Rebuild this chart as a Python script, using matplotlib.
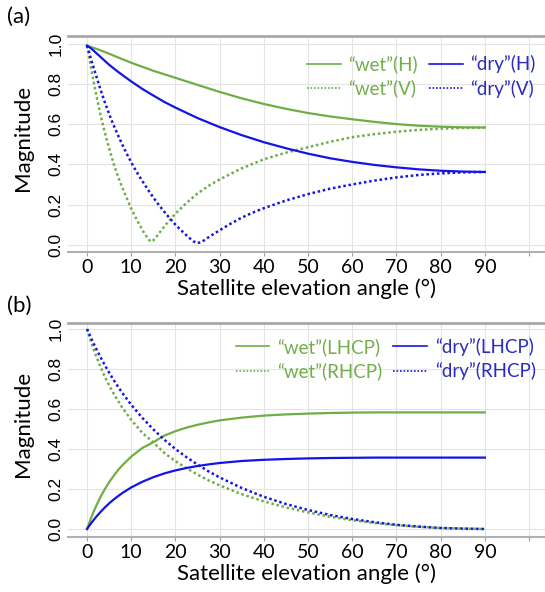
import matplotlib
matplotlib.use("Agg")
import matplotlib.pyplot as plt

plt.rcParams["font.family"] = ["Lato", "DejaVu Sans"]

# (a) linear polarisations, magnitudes
wet_h_deg = [0, 2, 5, 7.5, 10, 15, 20, 25, 30, 35, 40, 45, 50, 55, 60, 65, 70, 75, 80, 85, 90]
wet_h = [0.99, 0.975, 0.95, 0.927, 0.905, 0.865, 0.83, 0.795, 0.76, 0.728, 0.70, 0.676,
         0.655, 0.638, 0.624, 0.611, 0.60, 0.592, 0.587, 0.584, 0.583]

dry_h_deg = [0, 1, 2, 3, 5, 7, 10, 12.5, 15, 17.5, 20, 25, 30, 35, 40, 45, 50, 55, 60,
             65, 70, 75, 80, 85, 90]
dry_h = [0.99, 0.975, 0.955, 0.935, 0.895, 0.86, 0.812, 0.775, 0.742, 0.71, 0.682, 0.63,
         0.585, 0.545, 0.51, 0.48, 0.453, 0.43, 0.412, 0.397, 0.385, 0.375, 0.368, 0.364,
         0.362]

wet_v_deg = [0, 0.5, 1, 1.5, 2, 3, 4, 5, 6, 7, 8, 9, 10, 11, 12, 13, 14, 14.5, 15, 16,
             17, 18, 19, 20, 22.5, 25, 27.5, 30, 35, 40, 45, 50, 55, 60, 65, 70, 75, 80,
             85, 90]
wet_v = [0.99, 0.93, 0.87, 0.81, 0.755, 0.65, 0.56, 0.48, 0.405, 0.34, 0.283, 0.23, 0.18,
         0.135, 0.095, 0.055, 0.025, 0.015, 0.022, 0.048, 0.078, 0.105, 0.13, 0.155, 0.208,
         0.255, 0.293, 0.325, 0.38, 0.425, 0.458, 0.485, 0.512, 0.535, 0.55, 0.562, 0.571,
         0.577, 0.581, 0.583]

dry_v_deg = [0, 0.5, 1, 1.5, 2, 3, 4, 5, 6, 7, 8, 9, 10, 11, 12, 13, 14, 15, 16, 17, 18,
             19, 20, 21, 22, 23, 24, 25, 26, 27, 28, 30, 32.5, 35, 37.5, 40, 45, 50, 55,
             60, 65, 70, 75, 80, 85, 90]
dry_v = [0.99, 0.955, 0.915, 0.88, 0.845, 0.775, 0.71, 0.65, 0.595, 0.545, 0.497, 0.452,
         0.41, 0.37, 0.335, 0.30, 0.267, 0.235, 0.205, 0.177, 0.15, 0.125, 0.10, 0.078,
         0.057, 0.037, 0.018, 0.008, 0.015, 0.03, 0.045, 0.072, 0.105, 0.135, 0.16, 0.182,
         0.22, 0.252, 0.279, 0.30, 0.319, 0.335, 0.347, 0.355, 0.36, 0.362]

# (b) circular polarisations
c_deg = [0, 0.5, 1, 1.5, 2, 3, 4, 5, 6, 7, 8, 10, 12.5, 15, 17.5, 20, 22.5, 25, 27.5, 30,
         35, 40, 45, 50, 55, 60, 65, 70, 75, 80, 85, 90]
wet_lhcp = [0.0, 0.03, 0.06, 0.087, 0.112, 0.158, 0.198, 0.234, 0.265, 0.294, 0.319,
            0.362, 0.405, 0.434, 0.467, 0.489, 0.507, 0.521, 0.533, 0.543, 0.557, 0.567,
            0.573, 0.577, 0.58, 0.582, 0.583, 0.583, 0.583, 0.583, 0.583, 0.583]
wet_rhcp = [1.0, 0.965, 0.93, 0.898, 0.868, 0.813, 0.763, 0.718, 0.678, 0.641, 0.606,
            0.546, 0.481, 0.433, 0.38, 0.339, 0.304, 0.272, 0.243, 0.218, 0.174, 0.138,
            0.108, 0.083, 0.061, 0.044, 0.03, 0.019, 0.011, 0.005, 0.002, 0.0]
dry_lhcp = [0.0, 0.016, 0.031, 0.045, 0.059, 0.084, 0.107, 0.128, 0.147, 0.164, 0.18,
            0.208, 0.236, 0.259, 0.278, 0.293, 0.305, 0.315, 0.323, 0.33, 0.34, 0.346,
            0.35, 0.353, 0.355, 0.356, 0.357, 0.357, 0.357, 0.357, 0.357, 0.357]
dry_rhcp = [1.0, 0.975, 0.95, 0.927, 0.904, 0.861, 0.82, 0.782, 0.746, 0.712, 0.68,
            0.621, 0.556, 0.498, 0.446, 0.40, 0.359, 0.322, 0.288, 0.258, 0.205, 0.161,
            0.125, 0.095, 0.07, 0.05, 0.034, 0.021, 0.012, 0.005, 0.002, 0.0]

x_ticks = list(range(0, 101, 10))
x_labels = [str(t) for t in x_ticks[:-1]] + [""]
y_ticks = [0.0, 0.2, 0.4, 0.6, 0.8, 1.0]

green = "#70AD47"
blue = "#1414E8"
green_txt = "#72AE4A"
blue_txt = "#2B2BC0"
dots = (0, (1.0, 1.1))

fig = plt.figure(figsize=(5.45, 5.92), dpi=100)
ax_a = fig.add_axes([0.1248, 0.5743, 0.8752, 0.3649])
ax_b = fig.add_axes([0.1248, 0.0929, 0.8752, 0.3615])

ax_a.plot(wet_h_deg, wet_h, color=green, lw=1.6, label="“wet”(H)")
ax_a.plot(wet_v_deg, wet_v, color=green, lw=1.8, ls=dots, label="“wet”(V)")
ax_a.plot(dry_h_deg, dry_h, color=blue, lw=1.6, label="“dry”(H)")
ax_a.plot(dry_v_deg, dry_v, color=blue, lw=1.8, ls=dots, label="“dry”(V)")
ax_a.set_ylim(-0.036, 1.038)

ax_b.plot(c_deg, wet_lhcp, color=green, lw=1.6, label="“wet”(LHCP)")
ax_b.plot(c_deg, wet_rhcp, color=green, lw=1.8, ls=dots, label="“wet”(RHCP)")
ax_b.plot(c_deg, dry_lhcp, color=blue, lw=1.6, label="“dry”(LHCP)")
ax_b.plot(c_deg, dry_rhcp, color=blue, lw=1.8, ls=dots, label="“dry”(RHCP)")
ax_b.set_ylim(-0.04, 1.03)

for ax, leg_y in ((ax_a, 0.955), (ax_b, 0.975)):
    ax.set_xlim(-4.3, 103.6)
    ax.set_xticks(x_ticks)
    ax.set_xticklabels(x_labels)
    ax.set_yticks(y_ticks)
    ax.set_yticklabels([f"{t:.1f}" for t in y_ticks], rotation=90, va="center",
                       family=["Liberation Sans"], fontsize=12.5)
    ax.grid(True, color="#E4E4E4", lw=0.8)
    ax.set_axisbelow(True)
    ax.spines["left"].set_visible(False)
    ax.spines["right"].set_visible(False)
    ax.spines["top"].set_color("#A8A8A8")
    ax.spines["top"].set_linewidth(2)
    ax.spines["bottom"].set_color("#B0B0B0")
    ax.spines["bottom"].set_linewidth(1.5)
    ax.tick_params(axis="x", length=3, color="#A0A0A0", labelsize=14, pad=2)
    ax.tick_params(axis="y", length=0, pad=3)
    ax.set_xlabel("Satellite elevation angle (°)", fontsize=16, labelpad=2)
    ax.set_ylabel("Magnitude", fontsize=16)
    ax.yaxis.set_label_coords(-0.073, 0.53)
    leg = ax.legend(ncol=2, loc="upper right", frameon=False, fontsize=13.5,
                    handlelength=1.8, handletextpad=0.4, columnspacing=0.6,
                    labelspacing=0.35, bbox_to_anchor=(1.0, leg_y), borderaxespad=0.1)
    for line in leg.get_lines():
        line.set_linewidth(1.2)
    for i, txt in enumerate(leg.get_texts()):
        txt.set_color(green_txt if i < 2 else blue_txt)

fig.text(0.013, 0.972, "(a)", fontsize=16, va="center")
fig.text(0.013, 0.483, "(b)", fontsize=16, va="center")

fig.savefig("out.png", dpi=100)
